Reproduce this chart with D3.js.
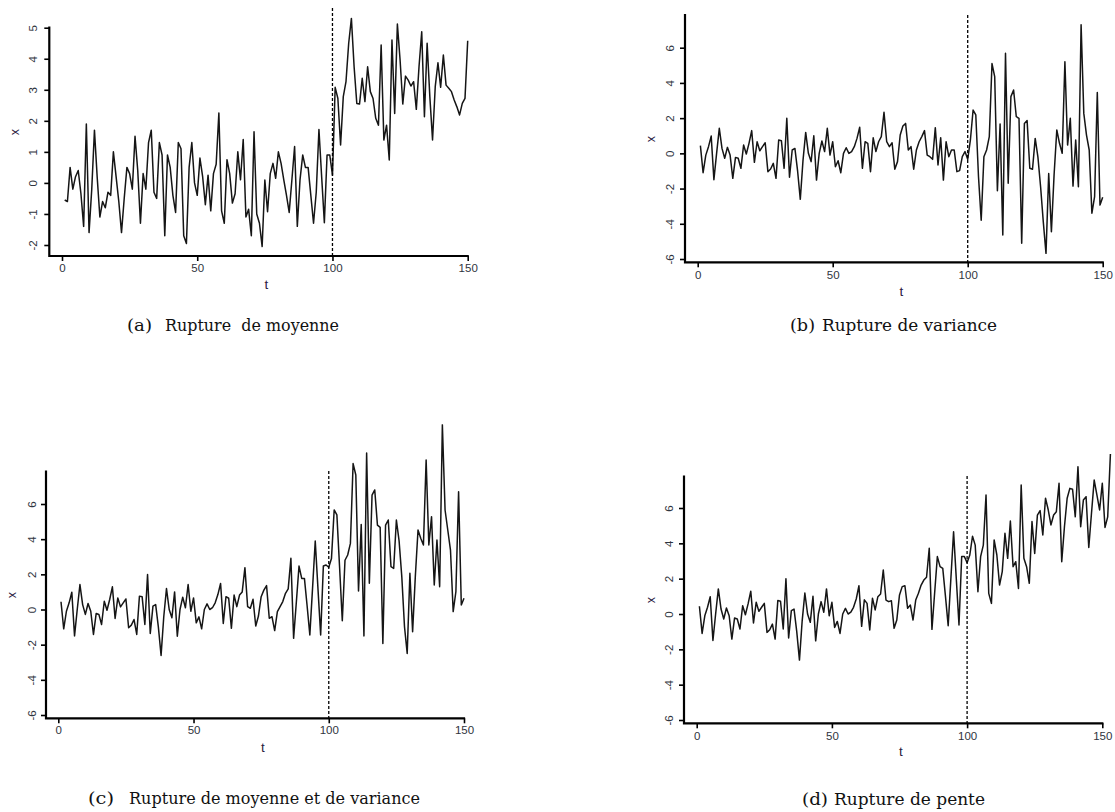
<!DOCTYPE html>
<html>
<head>
<meta charset="utf-8">
<script src="https://cdn.jsdelivr.net/npm/d3@7"></script>
<style>
  html, body { margin: 0; padding: 0; background: #fff; }
  svg { display: block; }
  .tick text { font-family: "Liberation Sans", Arial, sans-serif; font-size: 11.5px; fill: #2f3440; }
  .axlab { font-family: "Liberation Sans", Arial, sans-serif; fill: #2a2040; }
  .cap { font-family: "DejaVu Serif", "Liberation Serif", serif; font-size: 16px; fill: #111; }
</style>
</head>
<body>
<script>
// ---------- data ----------
const xTicks = [0, 50, 100, 150];
const yTicksA = [-2, -1, 0, 1, 2, 3, 4, 5];
const yTicksBCD = [-6, -4, -2, 0, 2, 4, 6];
const breakPoint = 100;
const captionLetters = ["(a)", "(b)", "(c)", "(d)"];
const captionTexts = ["Rupture  de moyenne", "Rupture de variance", "Rupture de moyenne et de variance", "Rupture de pente"];

// (a) mean break
const seriesA = [
 -0.55,-0.6,0.5,-0.2,0.2,0.4,-0.35,-1.4,1.9,-1.6,
 -0.2,1.7,0.2,-1.1,-0.6,-0.8,-0.3,-0.4,1.0,0.2,
 -0.6,-1.6,-0.5,0.5,0.3,-0.2,1.5,0.4,-1.3,0.3,
 -0.2,1.3,1.7,-0.3,-0.5,1.3,0.9,-1.7,0.9,0.5,
 -0.4,-0.95,1.3,1.1,-1.7,-1.95,0.5,1.3,0,-0.4,
 0.8,0.2,-0.7,0.25,-0.9,0.3,0.6,2.25,-0.9,-1.3,
 0.75,0.3,-0.65,-0.35,1.0,0.1,1.4,-1.1,-0.85,-1.7,
 1.65,-1.0,-1.3,-2.05,0.09,-0.93,0.3,0.63,0.15,1.0,
 0.63,0.1,-0.4,-0.95,0.1,1.17,-1.4,0.1,0.9,0.5,
 0.5,-0.4,-1.3,-0.3,1.72,0.2,-1.28,0.9,0.9,0.25,
 3.08,2.72,1.22,2.78,3.26,4.5,5.3,3.74,2.56,2.54,
 3.37,2.62,3.74,2.94,2.72,2.08,1.86,4.44,1.38,1.86,
 0.74,4.6,2.24,5.12,3.96,2.54,3.44,3.31,3.12,3.26,
 2.37,3.74,4.87,2.13,4.5,2.78,1.38,3.1,3.87,3.08,
 4.12,3.15,3.05,2.94,2.67,2.45,2.19,2.56,2.72,4.58
];

// (b) variance break
const seriesB = [
 0.44,-1.1,-0.1,0.38,0.98,-1.5,0,1.42,0.28,-0.28,
 0.34,-0.1,-1.42,-0.23,-0.28,-0.85,0.47,-0.04,0.57,1.29,
 -0.51,0.66,0.15,0.38,0.6,-1.04,-0.89,-0.57,-1.42,0.76,
 0.72,-0.85,1.99,-1.36,0.19,0.28,-1.0,-2.61,-0.4,1.19,
 0,-0.47,1.0,-1.52,0,0.7,0.1,1.42,-0.1,0.66,
 -0.76,-0.42,-1.1,0,0.32,0,0.1,0.38,0.85,1.48,
 -0.85,0.66,0.57,-1.04,0.88,0.1,0.66,0.95,2.33,0.66,
 0.38,0.6,-0.9,-0.47,1.04,1.55,1.7,0.19,0.38,-0.9,
 0.19,0.66,0.95,1.29,-0.1,-0.19,-0.34,1.46,-0.66,0.89,
 -1.52,0.66,-0.19,0.19,0.19,-1.04,-0.98,-0.19,0.1,-0.34,
 0.76,2.46,2.18,-1.33,-3.8,-0.19,0.19,0.95,5.1,4.36,
 -2.12,1.67,-4.64,5.68,-1.7,3.22,3.6,2.08,1.99,-5.1,
 1.7,1.86,-0.85,-0.9,0.85,-0.2,-1.9,-3.9,-5.68,-1.14,
 -4.45,-1.2,1.33,0.57,0,5.2,0.47,1.99,-1.86,0.76,
 -1.9,7.3,2.27,1.04,0.19,-3.4,-2.46,3.45,-2.94,-2.5
];

// (c) mean and variance break
const seriesC = [
 0.44,-1.1,-0.1,0.38,0.98,-1.5,0,1.42,0.28,-0.28,
 0.34,-0.1,-1.42,-0.23,-0.28,-0.85,0.47,-0.04,0.57,1.29,
 -0.51,0.66,0.15,0.38,0.6,-1.04,-0.89,-0.57,-1.42,0.76,
 0.72,-0.85,1.99,-1.36,0.19,0.28,-1.0,-2.61,-0.4,1.19,
 0,-0.47,1.0,-1.52,0,0.7,0.1,1.42,-0.1,0.66,
 -0.76,-0.42,-1.1,0,0.32,0,0.1,0.38,0.85,1.48,
 -0.79,0.73,0.64,-1.07,0.82,0.16,0.82,1.0,2.38,0.16,
 0.07,0.58,-0.94,-0.37,0.73,1.1,1.36,-0.5,-0.41,-1.2,
 -0.12,0.16,0.45,0.92,1.17,2.91,-1.64,0.4,2.47,1.77,
 1.77,0.2,-1.45,1.2,3.9,1.2,-1.45,2.47,2.53,2.4,
 2.9,5.66,5.38,2.4,-0.64,2.8,3.1,3.76,8.3,7.65,
 1.05,4.84,-1.5,8.9,1.49,6.5,6.8,4.8,4.67,-1.93,
 4.8,5.09,2.44,2.34,5.09,3.9,1.87,-0.98,-2.5,2.06,
 -1.26,1.87,4.52,4.05,3.67,8.5,3.67,5.28,1.39,3.95,
 1.3,10.5,5.66,4.52,3.38,-0.12,1.01,6.7,0.26,0.64
];

// (d) slope break
const seriesD = [
 0.44,-1.1,-0.1,0.38,0.98,-1.5,0,1.42,0.28,-0.28,
 0.34,-0.1,-1.42,-0.23,-0.28,-0.85,0.47,-0.04,0.57,1.29,
 -0.51,0.66,0.15,0.38,0.6,-1.04,-0.89,-0.57,-1.42,0.76,
 0.72,-0.85,1.99,-1.36,0.19,0.28,-1.0,-2.61,-0.4,1.19,
 0,-0.47,1.0,-1.52,0,0.7,0.1,1.42,-0.1,0.66,
 -0.76,-0.42,-1.1,0,0.32,0,0.1,0.38,0.85,1.6,
 -0.7,0.8,0.6,-0.9,0.89,0.23,0.98,1.13,2.49,0.79,
 0.7,0.75,-0.81,-0.34,1.08,1.55,1.6,0.32,0.51,-0.34,
 0.79,1.17,1.64,1.92,2.08,3.72,-0.87,1.2,3.25,2.68,
 2.58,1.0,-0.66,2.0,4.66,2.0,-0.62,3.25,3.25,2.9,
 3.34,4.4,3.9,1.26,3.25,3.9,6.74,1.17,0.6,4.19,
 3.34,1.64,2.4,4.57,3.15,5.26,2.68,2.96,1.45,7.3,
 3.15,2.68,1.74,5.23,3.43,5.6,5.85,4.47,6.55,5.9,
 5.04,5.6,5.79,7.4,2.96,4.94,6.55,7.11,7.06,5.5,
 8.34,4.94,6.45,6.64,3.77,5.7,7.58,6.74,5.89,7.4,
 4.9,5.5,9.06
];

// ---------- layout ----------
const W = 1115, H = 812;
const svg = d3.select("body").append("svg").attr("width", W).attr("height", H);

const panels = [
  { data: seriesA, yTicks: yTicksA,   xr: [62, 467.7],    yd: [-2, 5], yr: [245, 27.7],
    axX: 49.3, axBottom: 256,   axTop: 27.7, dashTop: 8,
    xLab: [15, 132], tLab: [266.5, 289], xPad: 3, yOff: 16,
    cap: { lx: 127, lw: 25, tx: 165, tw: 174, y: 331 } },
  { data: seriesB, yTicks: yTicksBCD, xr: [697.7, 1102.7], yd: [-6, 6], yr: [259, 47.7],
    axX: 685, axBottom: 262.3, axTop: 15, dashTop: 15,
    xLab: [651, 139], tLab: [901.5, 296], xPad: 4, yOff: 15,
    cap: { lx: 790, lw: 25, tx: 822, tw: 175, y: 331 } },
  { data: seriesC, yTicks: yTicksBCD, xr: [58.3, 464],    yd: [-6, 6], yr: [715, 504],
    axX: 46, axBottom: 718.3, axTop: 471.7, dashTop: 471,
    xLab: [12, 595], tLab: [263, 752], xPad: 3, yOff: 14,
    cap: { lx: 88, lw: 26, tx: 129, tw: 291, y: 804 } },
  { data: seriesD, yTicks: yTicksBCD, xr: [696.7, 1102.3], yd: [-6, 6], yr: [720, 508],
    axX: 684, axBottom: 723.3, axTop: 476.7, dashTop: 476,
    xLab: [651, 600], tLab: [901, 756], xPad: 3.5, yOff: 15,
    cap: { lx: 802, lw: 26, tx: 834, tw: 151, y: 805 } }
];

panels.forEach((p, i) => {
  const g = svg.append("g");
  const x = d3.scaleLinear().domain([xTicks[0], xTicks[xTicks.length - 1]]).range(p.xr);
  const y = d3.scaleLinear().domain(p.yd).range(p.yr);

  // series line
  const line = d3.line().x((d, k) => x(k + 1)).y(d => y(d));
  g.append("path").datum(p.data)
    .attr("d", line)
    .attr("fill", "none")
    .attr("stroke", "#151515")
    .attr("stroke-width", 1.5)
    .attr("stroke-linejoin", "round");

  // break line
  g.append("line")
    .attr("x1", x(breakPoint)).attr("x2", x(breakPoint))
    .attr("y1", p.dashTop).attr("y2", p.axBottom)
    .attr("stroke", "#000").attr("stroke-width", 1.3)
    .attr("stroke-dasharray", "3,2");

  // x axis
  const xa = g.append("g").attr("transform", `translate(0,${p.axBottom})`)
    .call(d3.axisBottom(x).tickValues(xTicks).tickSize(5).tickPadding(p.xPad).tickFormat(d => String(d)));
  xa.select(".domain").remove();
  xa.selectAll(".tick line").attr("stroke", "#000").attr("stroke-width", 1.6);

  // y axis
  const ya = g.append("g").attr("transform", `translate(${p.axX},0)`)
    .call(d3.axisLeft(y).tickValues(p.yTicks).tickSize(5).tickFormat(d => String(d)));
  ya.select(".domain").remove();
  ya.selectAll(".tick line").attr("stroke", "#000").attr("stroke-width", 1.6);
  ya.selectAll(".tick text")
    .attr("x", null).attr("dy", null)
    .attr("text-anchor", "middle")
    .attr("dominant-baseline", "central")
    .attr("transform", `translate(${-p.yOff},0) rotate(-90)`);

  // L-shaped frame
  g.append("path")
    .attr("d", `M${p.axX},${p.axTop}V${p.axBottom}H${x(xTicks[xTicks.length - 1])}`)
    .attr("fill", "none").attr("stroke", "#000").attr("stroke-width", 2.2)
    .attr("stroke-linecap", "square");

  // axis labels
  g.append("text").attr("class", "axlab")
    .attr("transform", `translate(${p.xLab[0]},${p.xLab[1]}) rotate(-90)`)
    .attr("text-anchor", "middle").attr("dominant-baseline", "central")
    .attr("font-size", 12.5).text("x");
  g.append("text").attr("class", "axlab")
    .attr("x", p.tLab[0]).attr("y", p.tLab[1])
    .attr("text-anchor", "middle").attr("font-size", 13.5).text("t");

  // caption
  g.append("text").attr("class", "cap")
    .attr("x", p.cap.lx).attr("y", p.cap.y)
    .attr("textLength", p.cap.lw).attr("lengthAdjust", "spacingAndGlyphs")
    .text(captionLetters[i]);
  g.append("text").attr("class", "cap")
    .attr("x", p.cap.tx).attr("y", p.cap.y)
    .attr("textLength", p.cap.tw).attr("lengthAdjust", "spacingAndGlyphs")
    .attr("xml:space", "preserve")
    .text(captionTexts[i]);
});
</script>
</body>
</html>
